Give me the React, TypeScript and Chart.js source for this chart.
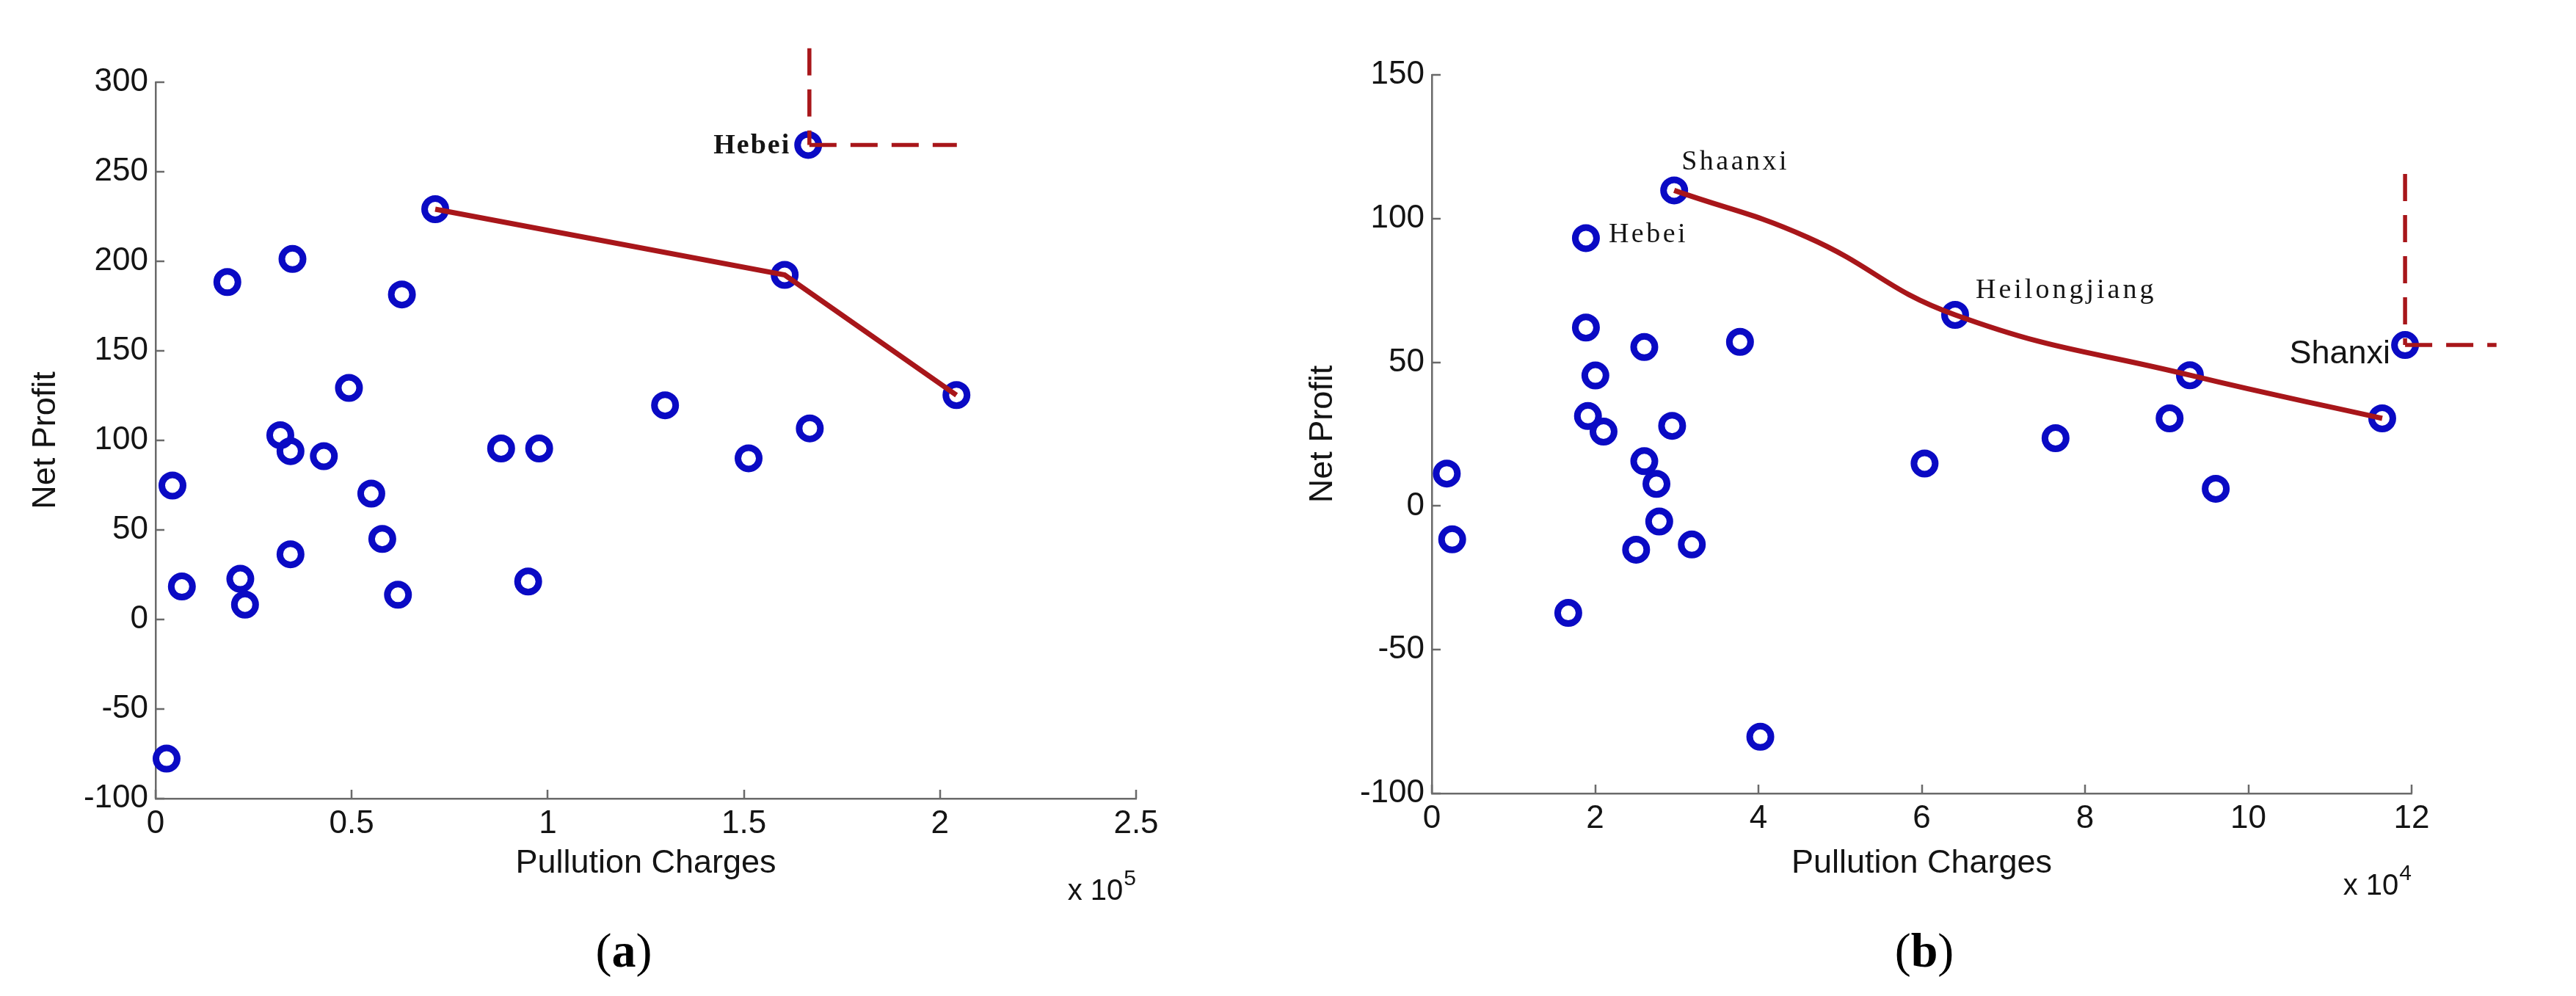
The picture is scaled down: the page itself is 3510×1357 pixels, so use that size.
import React, { useEffect, useRef } from 'react';
import { Chart, registerables } from 'chart.js';

Chart.register(...registerables);

// ---------- Panel (a) ----------
const chargesA = [2800, 4300, 6700, 18300, 21600, 22800, 31800, 34400, 34900, 34400, 42900, 49300, 55000, 57800, 61800, 62800, 71300, 88100, 97800, 95000, 129900, 151200, 160400, 166400, 166800, 204200];
const profitA = [-77.7, 74.8, 18.4, 188.4, 22.7, 8.3, 102.9, 94, 201.3, 36.4, 91.2, 129.3, 70.3, 45, 13.8, 181.5, 229.1, 95.5, 95.5, 21.2, 119.6, 90, 192.4, 265, 106.7, 125.3];
const frontierChargesA = [71300, 160400, 204200];
const frontierProfitA = [229.1, 192.4, 125.3];
const guideVChargesA = [166700, 166700];
const guideVProfitA = [319, 265];
const guideHChargesA = [166700, 204300];
const guideHProfitA = [265, 265];
const labelTextA = ['Hebei'];
const labelChargesA = [166400];
const labelProfitA = [265];
const xTicksA = [0, 50000, 100000, 150000, 200000, 250000];
const yTicksA = [-100, -50, 0, 50, 100, 150, 200, 250, 300];

// ---------- Panel (b) ----------
const chargesB = [1830, 2490, 16710, 18870, 18870, 20030, 19120, 21030, 26020, 26020, 27510, 27850, 25020, 29430, 31840, 29680, 37740, 40230, 60350, 64090, 76390, 90360, 92850, 96010, 116400, 119200];
const profitB = [11.3, -11.6, -37.2, 93.2, 62.1, 45.4, 31.3, 25.9, 55.3, 15.6, 7.7, -5.4, -15.2, 27.9, -13.4, 109.8, 57.1, -80.3, 14.8, 66.5, 23.6, 30.5, 45.5, 6, 30.5, 56];
const frontierChargesB = [29680, 46000, 64090, 92850, 116400];
const frontierProfitB = [109.8, 93.5, 66.5, 45.5, 30.5];
const guideVChargesB = [119200, 119200];
const guideVProfitB = [115.5, 56];
const guideHChargesB = [119200, 130400];
const guideHProfitB = [56, 56];
const labelTextB = ['Shaanxi', 'Hebei', 'Heilongjiang', 'Shanxi'];
const labelChargesB = [29680, 18870, 64090, 119200];
const labelProfitB = [109.8, 93.2, 66.5, 56];
const xTicksB = [0, 20000, 40000, 60000, 80000, 100000, 120000];
const yTicksB = [-100, -50, 0, 50, 100, 150];

const BLUE = '#0a0ac4';
const RED = '#a8161a';
const AXIS = '#6a6a6a';
const TEXT = '#141414';
const SANS = '"Liberation Sans", Arial, sans-serif';
const SERIF = '"Liberation Serif", "Times New Roman", serif';

type LabelStyle = { font: string; align: CanvasTextAlign; dx: number; dy: number; spacing: string };

const zip = (xs: number[], ys: number[]) => xs.map((x, i) => ({ x, y: ys[i] }));

function fmt(v: number) {
  return String(parseFloat(v.toFixed(3)));
}

function makeExtras(expo: string, styles: LabelStyle[], texts: string[], lx: number[], ly: number[]) {
  return {
    id: 'extras' + expo,
    afterDatasetsDraw(chart: any) {
      const { ctx, scales } = chart;
      const x = scales.x;
      const y = scales.y;
      texts.forEach((t, i) => {
        const s = styles[i];
        ctx.save();
        ctx.font = s.font;
        ctx.fillStyle = TEXT;
        ctx.textAlign = s.align;
        ctx.textBaseline = 'middle';
        (ctx as any).letterSpacing = s.spacing;
        ctx.fillText(t, x.getPixelForValue(lx[i]) + s.dx, y.getPixelForValue(ly[i]) + s.dy);
        ctx.restore();
      });
    },
    afterDraw(chart: any) {
      const { ctx, chartArea, scales } = chart;
      const x = scales.x;
      const y = scales.y;
      ctx.save();
      ctx.strokeStyle = AXIS;
      ctx.lineWidth = 2.5;
      ctx.beginPath();
      x.ticks.forEach((t: any) => {
        const px = Math.round(x.getPixelForValue(t.value));
        ctx.moveTo(px, chartArea.bottom);
        ctx.lineTo(px, chartArea.bottom - 12);
      });
      y.ticks.forEach((t: any) => {
        const py = Math.round(y.getPixelForValue(t.value));
        ctx.moveTo(chartArea.left, py);
        ctx.lineTo(chartArea.left + 12, py);
      });
      ctx.stroke();
      // multiplier label
      ctx.fillStyle = TEXT;
      ctx.textAlign = 'right';
      ctx.textBaseline = 'alphabetic';
      ctx.font = `30px ${SANS}`;
      const w = ctx.measureText(expo).width;
      ctx.fillText(expo, chartArea.right, chartArea.bottom + 118);
      ctx.font = `40px ${SANS}`;
      ctx.fillText('x 10', chartArea.right - w - 1, chartArea.bottom + 138);
      ctx.restore();
    },
  };
}

type PanelCfg = {
  width: number;
  height: number;
  area: { left: number; right: number; top: number; bottom: number };
  pts: { x: number; y: number }[];
  frontier: { x: number; y: number }[];
  tension: number;
  guideV: { x: number; y: number }[];
  guideH: { x: number; y: number }[];
  xTicks: number[];
  yTicks: number[];
  div: number;
  expo: string;
  yTitleOffset: number;
  plugin: any;
};

function buildChart(canvas: HTMLCanvasElement, c: PanelCfg) {
  const lineBase = { showLine: true, pointRadius: 0, pointHoverRadius: 0, borderColor: RED, clip: false as any };
  return new Chart(canvas, {
    type: 'scatter',
    data: {
      datasets: [
        { ...lineBase, data: c.frontier, borderWidth: 7, tension: c.tension },
        { ...lineBase, data: c.guideV, borderWidth: 5.5, borderDash: [37, 19] },
        { ...lineBase, data: c.guideH, borderWidth: 5.5, borderDash: [37, 19] },
        {
          data: c.pts,
          showLine: false,
          pointStyle: 'circle',
          pointRadius: 14.5,
          pointHoverRadius: 14.5,
          pointBorderWidth: 9,
          pointBorderColor: BLUE,
          pointBackgroundColor: 'rgba(0,0,0,0)',
          borderColor: BLUE,
          backgroundColor: 'rgba(0,0,0,0)',
          clip: false as any,
        },
      ] as any,
    },
    options: {
      animation: false,
      responsive: false,
      events: [],
      layout: { padding: { top: c.area.top, right: c.width - c.area.right, left: 0, bottom: 0 } },
      plugins: { legend: { display: false }, tooltip: { enabled: false } },
      scales: {
        x: {
          type: 'linear',
          min: c.xTicks[0],
          max: c.xTicks[c.xTicks.length - 1],
          afterBuildTicks: (s: any) => {
            s.ticks = c.xTicks.map((v) => ({ value: v }));
          },
          afterFit: (s: any) => {
            s.height = c.height - c.area.bottom;
          },
          grid: { display: true, drawOnChartArea: false, drawTicks: false, color: 'rgba(0,0,0,0)' },
          border: { display: true, color: AXIS, width: 2.5 },
          ticks: {
            font: { family: SANS, size: 44 },
            color: TEXT,
            padding: 8,
            maxRotation: 0,
            autoSkip: false,
            callback: (v: any) => fmt(Number(v) / c.div),
          },
          title: {
            display: true,
            text: 'Pullution Charges',
            color: TEXT,
            font: { family: SANS, size: 45 },
            padding: { top: 0, bottom: 46 },
          },
        },
        y: {
          type: 'linear',
          min: c.yTicks[0],
          max: c.yTicks[c.yTicks.length - 1],
          afterBuildTicks: (s: any) => {
            s.ticks = c.yTicks.map((v) => ({ value: v }));
          },
          afterFit: (s: any) => {
            s.width = c.area.left;
          },
          grid: { display: true, drawOnChartArea: false, drawTicks: false, color: 'rgba(0,0,0,0)' },
          border: { display: true, color: AXIS, width: 2.5 },
          ticks: {
            font: { family: SANS, size: 44 },
            color: TEXT,
            padding: 10,
            autoSkip: false,
            callback: (v: any) => fmt(Number(v)),
          },
          title: {
            display: true,
            text: 'Net Profit',
            color: TEXT,
            font: { family: SANS, size: 45 },
            padding: { top: c.yTitleOffset, bottom: 0 },
          },
        },
      },
    } as any,
    plugins: [c.plugin],
  });
}

const stylesA: LabelStyle[] = [
  { font: `bold 38px ${SERIF}`, align: 'right', dx: -24, dy: 2, spacing: '2px' },
];
const stylesB: LabelStyle[] = [
  { font: `38px ${SERIF}`, align: 'left', dx: 10, dy: -38, spacing: '3.5px' },
  { font: `38px ${SERIF}`, align: 'left', dx: 31, dy: -4, spacing: '3.5px' },
  { font: `38px ${SERIF}`, align: 'left', dx: 28, dy: -33, spacing: '4px' },
  { font: `45px ${SANS}`, align: 'right', dx: -20, dy: 12, spacing: '0px' },
];

export default function App() {
  const refA = useRef<HTMLCanvasElement>(null);
  const refB = useRef<HTMLCanvasElement>(null);

  useEffect(() => {
    const cfgA: PanelCfg = {
      width: 1740,
      height: 1250,
      area: { left: 212, right: 1548, top: 112, bottom: 1088 },
      pts: zip(chargesA, profitA),
      frontier: zip(frontierChargesA, frontierProfitA),
      tension: 0,
      guideV: zip(guideVChargesA, guideVProfitA),
      guideH: zip(guideHChargesA, guideHProfitA),
      xTicks: xTicksA,
      yTicks: yTicksA,
      div: 1e5,
      expo: '5',
      yTitleOffset: 36,
      plugin: makeExtras('5', stylesA, labelTextA, labelChargesA, labelProfitA),
    };
    const cfgB: PanelCfg = {
      width: 1770,
      height: 1250,
      area: { left: 211, right: 1546, top: 102, bottom: 1081 },
      pts: zip(chargesB, profitB),
      frontier: zip(frontierChargesB, frontierProfitB),
      tension: 0.45,
      guideV: zip(guideVChargesB, guideVProfitB),
      guideH: zip(guideHChargesB, guideHProfitB),
      xTicks: xTicksB,
      yTicks: yTicksB,
      div: 1e4,
      expo: '4',
      yTitleOffset: 36,
      plugin: makeExtras('4', stylesB, labelTextB, labelChargesB, labelProfitB),
    };
    const a = buildChart(refA.current!, cfgA);
    const b = buildChart(refB.current!, cfgB);
    return () => {
      a.destroy();
      b.destroy();
    };
  }, []);

  const cap: React.CSSProperties = {
    position: 'absolute',
    top: 1295,
    transform: 'translate(-50%, -50%)',
    fontFamily: SERIF,
    fontSize: 66,
    lineHeight: 1,
    color: '#000',
    whiteSpace: 'nowrap',
  };

  return (
    <div style={{ position: 'fixed', left: 0, top: 0, width: 3510, height: 1357, background: '#fff', overflow: 'hidden' }}>
      <canvas ref={refA} width={1740} height={1250} style={{ position: 'absolute', left: 0, top: 0, width: 1740, height: 1250 }} />
      <canvas ref={refB} width={1770} height={1250} style={{ position: 'absolute', left: 1740, top: 0, width: 1770, height: 1250 }} />
      <div style={{ ...cap, left: 850 }}>
        (<b>a</b>)
      </div>
      <div style={{ ...cap, left: 2622 }}>
        (<b>b</b>)
      </div>
    </div>
  );
}
